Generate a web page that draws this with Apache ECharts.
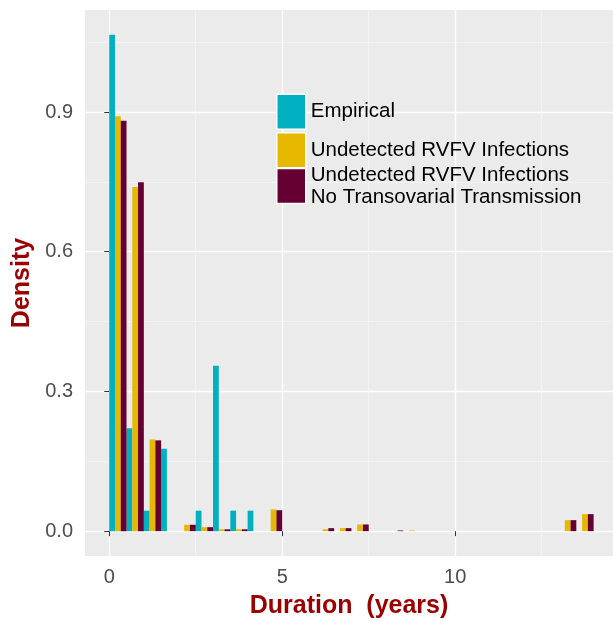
<!DOCTYPE html>
<html>
<head>
<meta charset="utf-8">
<script src="https://cdn.jsdelivr.net/npm/echarts@6/dist/echarts.min.js"></script>
<style>
html,body{margin:0;padding:0;background:#fff;}
#chart{width:613px;height:621px;}
</style>
</head>
<body>
<div id="chart"></div>
<script>
// Histogram bins (start of each 0.5-year bin)
const binStarts = [0, 0.5, 1, 1.5, 2, 2.5, 3, 3.5, 4, 4.5, 5, 5.5, 6, 6.5, 7, 7.5, 8, 8.5, 9, 9.5, 10, 10.5, 11, 11.5, 12, 12.5, 13, 13.5];
const binWidth = 0.5;
const seriesNames = ["Empirical", "Undetected RVFV Infections", "Undetected RVFV Infections\nNo Transovarial Transmission"];
const empirical = [1.066, 0.221, 0.044, 0.177, 0, 0.044, 0.355, 0.044, 0.044, 0, 0, 0, 0, 0, 0, 0, 0, 0, 0, 0, 0, 0, 0, 0, 0, 0, 0, 0];
const undetected = [0.891, 0.739, 0.197, 0, 0.0137, 0.0086, 0.004, 0.004, 0, 0.0467, 0, 0, 0.004, 0.0065, 0.0144, 0, 0, 0.0015, 0, 0, 0, 0, 0, 0, 0, 0, 0.0237, 0.0366];
const noTransovarial = [0.881, 0.749, 0.195, 0, 0.0137, 0.0086, 0.004, 0.004, 0, 0.045, 0, 0, 0.0065, 0.0065, 0.0144, 0, 0.0015, 0, 0, 0, 0, 0, 0, 0, 0, 0, 0.0237, 0.0366];
const xTicks = [0, 5, 10];
const xMinorTicks = [2.5, 7.5, 12.5];
const yTicks = [0, 0.3, 0.6, 0.9];
const yMinorTicks = [0.15, 0.45, 0.75, 1.05];
const colors = ["#00B0C0", "#E6B800", "#660033"];

const chart = echarts.init(document.getElementById('chart'), null, {renderer: 'canvas'});
const FONT = "'Liberation Sans', Arial, Helvetica, sans-serif";
const TITLE_COLOR = "#9B0000";

function makeSeries(name, values, k) {
  return {
    type: 'custom',
    name: name,
    xAxisIndex: 0,
    yAxisIndex: 0,
    itemStyle: {color: colors[k]},
    data: binStarts.map((b, i) => [b, values[i]]),
    renderItem: function (params, api) {
      const x0 = api.value(0);
      const v = api.value(1);
      if (!v) return null;
      const sub = binWidth / 3;
      const p0 = api.coord([x0 + k * sub, 0]);
      const p1 = api.coord([x0 + (k + 1) * sub, v]);
      return {
        type: 'rect',
        shape: {x: p0[0], y: p1[1], width: p1[0] - p0[0], height: p0[1] - p1[1]},
        style: {fill: api.visual('color')}
      };
    }
  };
}

const legendBase = {
  orient: 'vertical',
  left: 276,
  padding: 0,
  itemWidth: 29,
  itemHeight: 35,
  itemGap: 2,
  icon: 'rect',
  itemStyle: {borderColor: '#fff', borderWidth: 1.5},
  textStyle: {fontSize: 20.5, color: '#000', fontFamily: FONT, lineHeight: 22, padding: [3, 0, 0, 0]},
  selectedMode: false
};

const option = {
  backgroundColor: '#fff',
  animation: false,
  textStyle: {fontFamily: FONT},
  grid: {left: 85, top: 10, right: 0, bottom: 65, show: true, backgroundColor: '#EBEBEB', borderWidth: 0,
         containLabel: false, outerBoundsMode: 'none'},
  legend: [
    Object.assign({}, legendBase, {top: 93.5, data: [seriesNames[0], seriesNames[1]]}),
    Object.assign({}, legendBase, {top: 162.5, data: [seriesNames[2]]})
  ],
  xAxis: [
    {
      type: 'value', min: -0.7, max: 14.56,
      name: 'Duration  (years)', nameLocation: 'middle', nameGap: 38,
      nameTextStyle: {fontSize: 25, fontWeight: 'bold', color: TITLE_COLOR, fontFamily: FONT},
      axisLine: {show: false},
      axisTick: {show: true, length: 5, lineStyle: {color: '#333', width: 1}, customValues: xTicks},
      axisLabel: {fontSize: 20, color: '#4D4D4D', margin: 11, customValues: xTicks, fontFamily: FONT},
      splitLine: {show: true, lineStyle: {color: '#fff', width: 1.3}}
    },
    {
      type: 'value', min: -0.7, max: 14.56, position: 'top',
      axisLine: {show: false}, axisTick: {show: false, customValues: xMinorTicks},
      axisLabel: {show: false, customValues: xMinorTicks},
      splitLine: {show: true, lineStyle: {color: '#F5F5F5', width: 0.8}}
    }
  ],
  yAxis: [
    {
      type: 'value', min: -0.0533, max: 1.119,
      name: 'Density', nameLocation: 'middle', nameGap: 50,
      nameTextStyle: {fontSize: 25, fontWeight: 'bold', color: TITLE_COLOR, fontFamily: FONT},
      axisLine: {show: false},
      axisTick: {show: true, length: 5, lineStyle: {color: '#333', width: 1}, customValues: yTicks},
      axisLabel: {fontSize: 20, color: '#4D4D4D', margin: 12, customValues: yTicks, fontFamily: FONT,
                  formatter: v => v.toFixed(1)},
      splitLine: {show: true, lineStyle: {color: '#fff', width: 1.3}}
    },
    {
      type: 'value', min: -0.0533, max: 1.119, position: 'right',
      axisLine: {show: false}, axisTick: {show: false, customValues: yMinorTicks},
      axisLabel: {show: false, customValues: yMinorTicks},
      splitLine: {show: true, lineStyle: {color: '#F5F5F5', width: 0.8}}
    }
  ],
  series: [
    makeSeries(seriesNames[0], empirical, 0),
    makeSeries(seriesNames[1], undetected, 1),
    makeSeries(seriesNames[2], noTransovarial, 2)
  ]
};
chart.setOption(option);
</script>
</body>
</html>
